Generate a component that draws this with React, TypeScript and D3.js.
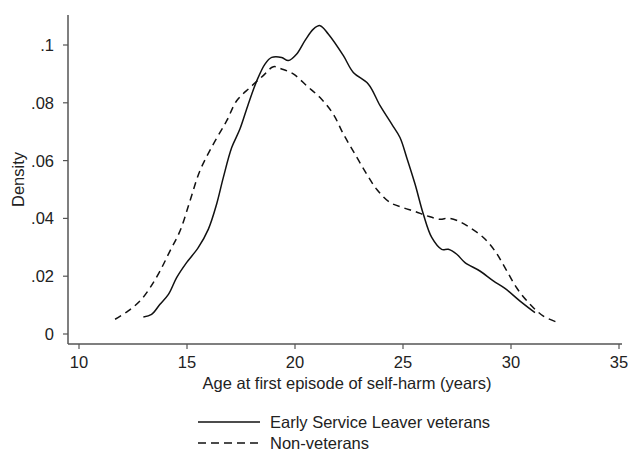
import React from "react";
import * as d3 from "d3";

// Early Service Leaver veterans: [age, density]
const eslAge = [12.98, 13.36, 13.75, 14.14, 14.52, 14.98, 15.52, 15.99, 16.37, 16.68, 17.07, 17.45, 17.84, 18.23, 18.61, 18.92, 19.38, 19.69, 20.08, 20.46, 20.85, 21.16, 21.54, 22.24, 22.7, 23.39, 23.94, 24.48, 24.86, 25.17, 25.56, 25.94, 26.33, 26.79, 27.1, 27.49, 27.87, 28.56, 29.18, 29.72, 30.42, 31.11];
const eslDensity = [0.0059, 0.0068, 0.0103, 0.0137, 0.0195, 0.0247, 0.0299, 0.0363, 0.0449, 0.0541, 0.0645, 0.0709, 0.0796, 0.0876, 0.0934, 0.0957, 0.0957, 0.0946, 0.0969, 0.1015, 0.1055, 0.1067, 0.1038, 0.0963, 0.0905, 0.0865, 0.079, 0.0726, 0.068, 0.0611, 0.0518, 0.0415, 0.0334, 0.0293, 0.0293, 0.0276, 0.0247, 0.0218, 0.0184, 0.0158, 0.0114, 0.0074];

// Non-veterans
const nvAge = [11.67, 12.28, 12.82, 13.29, 13.75, 14.21, 14.68, 15.14, 15.6, 16.22, 16.84, 17.3, 17.92, 18.53, 19.0, 19.38, 19.92, 20.54, 21.16, 21.77, 22.24, 22.78, 23.32, 23.78, 24.4, 25.01, 25.56, 26.1, 26.71, 27.1, 27.56, 28.1, 28.72, 29.26, 29.72, 30.26, 30.88, 31.5, 32.19];
const nvDensity = [0.0051, 0.008, 0.0114, 0.016, 0.0218, 0.0287, 0.0357, 0.0461, 0.0565, 0.0657, 0.0738, 0.0807, 0.0853, 0.0894, 0.0925, 0.0917, 0.09, 0.0859, 0.0818, 0.0761, 0.0692, 0.0622, 0.0553, 0.0501, 0.0455, 0.0437, 0.0424, 0.0409, 0.0397, 0.0401, 0.0391, 0.0368, 0.0334, 0.0287, 0.023, 0.016, 0.0103, 0.0062, 0.0039];

const xTicks = [10, 15, 20, 25, 30, 35];
const yTicks = [0, 0.02, 0.04, 0.06, 0.08, 0.1];
const seriesNames = ["Early Service Leaver veterans", "Non-veterans"];

const width = 628;
const height = 451;
const axisColor = "#555";
const textColor = "#222";
const font = "'Liberation Sans', Arial, sans-serif";
const fs = 16.5;

export default function App() {
  const x = d3.scaleLinear().domain([10, 35]).range([79, 619]);
  const y = d3.scaleLinear().domain([0, 0.1]).range([334, 45]);

  const line = d3
    .line<[number, number]>()
    .x((d) => x(d[0]))
    .y((d) => y(d[1]))
    .curve(d3.curveCatmullRom);

  const esl = eslAge.map((a, i) => [a, eslDensity[i]] as [number, number]);
  const nv = nvAge.map((a, i) => [a, nvDensity[i]] as [number, number]);

  const fmt = (v: number) => (v === 0 ? "0" : String(v).replace(/^0/, ""));

  const axisY = 344;
  const axisX = 68;

  return (
    <svg
      width={width}
      height={height}
      style={{ position: "absolute", left: 0, top: 0, background: "white" }}
      fontFamily={font}
    >
      {/* axes */}
      <line x1={axisX} x2={axisX} y1={15} y2={axisY} stroke={axisColor} strokeWidth={1.5} />
      <line x1={axisX} x2={622} y1={axisY} y2={axisY} stroke={axisColor} strokeWidth={1.5} />

      {yTicks.map((t) => (
        <g key={t}>
          <line x1={axisX - 5} x2={axisX} y1={y(t)} y2={y(t)} stroke={axisColor} strokeWidth={1.2} />
          <text x={axisX - 14} y={y(t)} dy="0.36em" textAnchor="end" fontSize={fs} fill={textColor}>
            {fmt(t)}
          </text>
        </g>
      ))}

      {xTicks.map((t) => (
        <g key={t}>
          <line x1={x(t)} x2={x(t)} y1={axisY} y2={axisY + 5} stroke={axisColor} strokeWidth={1.2} />
          <text x={x(t)} y={368} textAnchor="middle" fontSize={fs} fill={textColor}>
            {t}
          </text>
        </g>
      ))}

      <text
        transform={`translate(24,${(15 + axisY) / 2}) rotate(-90)`}
        textAnchor="middle"
        fontSize={fs}
        fill={textColor}
      >
        Density
      </text>
      <text x={347} y={389} textAnchor="middle" fontSize={fs} fill={textColor}>
        Age at first episode of self-harm (years)
      </text>

      {/* curves */}
      <path d={line(esl) ?? ""} fill="none" stroke="#111" strokeWidth={1.5} />
      <path d={line(nv) ?? ""} fill="none" stroke="#111" strokeWidth={1.5} strokeDasharray="7,5" />

      {/* legend */}
      <line x1={198} x2={260} y1={422} y2={422} stroke="#111" strokeWidth={1.5} />
      <text x={270} y={422} dy="0.36em" fontSize={fs} fill={textColor}>
        {seriesNames[0]}
      </text>
      <line x1={198} x2={260} y1={443} y2={443} stroke="#111" strokeWidth={1.5} strokeDasharray="8,5" />
      <text x={270} y={443} dy="0.36em" fontSize={fs} fill={textColor}>
        {seriesNames[1]}
      </text>
    </svg>
  );
}
